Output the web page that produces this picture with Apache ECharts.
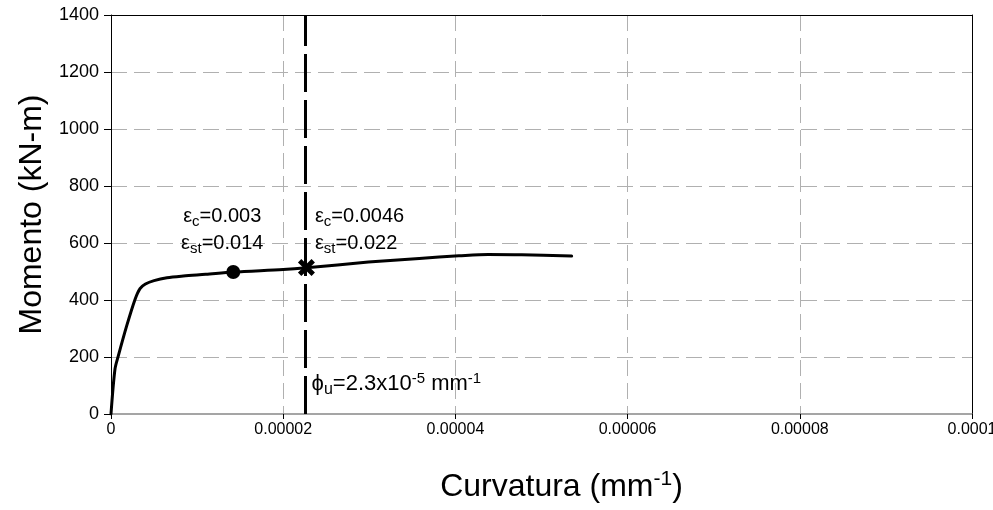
<!DOCTYPE html>
<html><head><meta charset="utf-8">
<script src="https://cdn.jsdelivr.net/npm/echarts@6/dist/echarts.min.js"></script>
<style>html,body{margin:0;padding:0;background:#fff}#c{width:993px;height:510px}</style>
</head><body><div id="c"></div>
<script>
// curvature in units of 1e-5 mm^-1, moment in kN-m
const curvatureE5 = [0, 0.046, 0.085, 0.182, 0.279, 0.337, 0.40, 0.50, 0.65, 0.84, 1.10, 1.42, 2.00, 2.27, 2.99, 3.58, 4.04, 4.38, 4.77, 5.35];
const moment      = [0, 157, 204, 309, 402, 440, 456, 468, 478, 484, 490, 498, 507, 513, 533, 546, 555, 560, 559, 554];
const xTickLabels = ['0', '0.00002', '0.00004', '0.00006', '0.00008', '0.0001'];
const yTickLabels = ['0', '200', '400', '600', '800', '1000', '1200', '1400'];
const firstYield = [1.42, 498];   // εc=0.003
const ultimate = [2.27, 514];     // εc=0.0046
const phiU = 2.26;                // vertical line position
const phiLabelM = 105;

const FONT = "'Liberation Sans',Arial,sans-serif";
const rich = {
  t: {fontFamily: FONT, fontSize: 20, color: '#000'},
  sub: {fontFamily: FONT, fontSize: 15, color: '#000', padding: [10, 0, 0, 0]},
  p: {fontFamily: FONT, fontSize: 22, color: '#000'},
  psub: {fontFamily: FONT, fontSize: 16, color: '#000', padding: [11, 0, 0, 0]},
  psup: {fontFamily: FONT, fontSize: 15, color: '#000', padding: [0, 0, 11, 0]},
  T: {fontFamily: FONT, fontSize: 32, color: '#000'},
  SUP: {fontFamily: FONT, fontSize: 21, color: '#000', padding: [0, 0, 16, 0]}
};

const curve = curvatureE5.map((c, i) => [c, moment[i]]);
const xMarker = 'path://M2,0 L5,3 L8,0 L10,2 L7,5 L10,8 L8,10 L5,7 L2,10 L0,8 L3,5 L0,2 Z';
const dash = {color: '#b0b0b0', type: [16, 7], width: 1};

const option = {
  animation: false,
  backgroundColor: '#fff',
  grid: {left: 111, right: 21, top: 15, bottom: 96, containLabel: false, outerBoundsMode: 'none'},
  xAxis: [{
    type: 'value', min: 0, max: 10, interval: 2,
    name: '{T|Curvatura (mm}{SUP|-1}{T|)}', nameLocation: 'middle', nameGap: 55,
    nameTextStyle: {rich: rich, padding: [0, 0, 0, 40]},
    axisLine: {show: true, onZero: false, lineStyle: {color: '#888', width: 1.5}},
    axisTick: {show: true, length: 5, lineStyle: {color: '#000'}},
    axisLabel: {fontFamily: FONT, fontSize: 16, color: '#000', margin: 8,
      formatter: v => xTickLabels[Math.round(v / 2)]},
    splitLine: {show: true, showMinLine: false, showMaxLine: false, lineStyle: dash}
  }, {
    type: 'value', min: 0, max: 10, interval: 2, position: 'top',
    axisLine: {show: true, onZero: false, lineStyle: {color: '#000', width: 1}},
    axisTick: {show: false}, axisLabel: {show: false}, splitLine: {show: false}
  }],
  yAxis: [{
    type: 'value', min: 0, max: 1400, interval: 200,
    name: 'Momento (kN-m)', nameLocation: 'middle', nameGap: 56,
    nameTextStyle: {fontFamily: FONT, fontSize: 32, color: '#000'},
    axisLine: {show: true, onZero: false, lineStyle: {color: '#000', width: 1}},
    axisTick: {show: true, length: 7, lineStyle: {color: '#000'}},
    axisLabel: {fontFamily: FONT, fontSize: 18, color: '#000', margin: 12,
      formatter: v => yTickLabels[Math.round(v / 200)]},
    splitLine: {show: true, showMinLine: false, showMaxLine: false, lineStyle: dash}
  }, {
    type: 'value', min: 0, max: 1400, interval: 200, position: 'right',
    axisLine: {show: true, onZero: false, lineStyle: {color: '#000', width: 1}},
    axisTick: {show: false}, axisLabel: {show: false}, splitLine: {show: false}
  }],
  series: [
    {
      type: 'line', data: curve, smooth: 0.3, showSymbol: false,
      lineStyle: {color: '#000', width: 3, cap: 'round'}, z: 3,
      markLine: {
        silent: true, symbol: 'none', label: {show: false},
        lineStyle: {color: '#000', width: 3, type: [38, 8]},
        data: [{xAxis: phiU}]
      }
    },
    {
      type: 'scatter', data: [firstYield], symbol: 'circle', symbolSize: 14,
      itemStyle: {color: '#000', opacity: 1}, z: 5,
      label: {show: true, position: [-4, -62], align: 'center', verticalAlign: 'top',
        formatter: '{t|ε}{sub|c}{t|=0.003}\n{t|ε}{sub|st}{t|=0.014}', rich: rich, lineHeight: 27}
    },
    {
      type: 'scatter', data: [ultimate], symbol: xMarker, symbolSize: 17,
      itemStyle: {color: '#000', opacity: 1}, z: 5,
      label: {show: true, position: [17, -56], align: 'left', verticalAlign: 'top',
        formatter: '{t|ε}{sub|c}{t|=0.0046}\n{t|ε}{sub|st}{t|=0.022}', rich: rich, lineHeight: 27}
    },
    {
      type: 'scatter', data: [[phiU, phiLabelM]], symbolSize: 0, z: 5,
      itemStyle: {opacity: 1},
      label: {show: true, position: 'right', distance: 6,
        formatter: '{p|ϕ}{psub|u}{p|=2.3x10}{psup|-5}{p| mm}{psup|-1}', rich: rich}
    }
  ]
};
const chart = echarts.init(document.getElementById('c'), null, {renderer: 'canvas'});
chart.setOption(option);
</script></body></html>
